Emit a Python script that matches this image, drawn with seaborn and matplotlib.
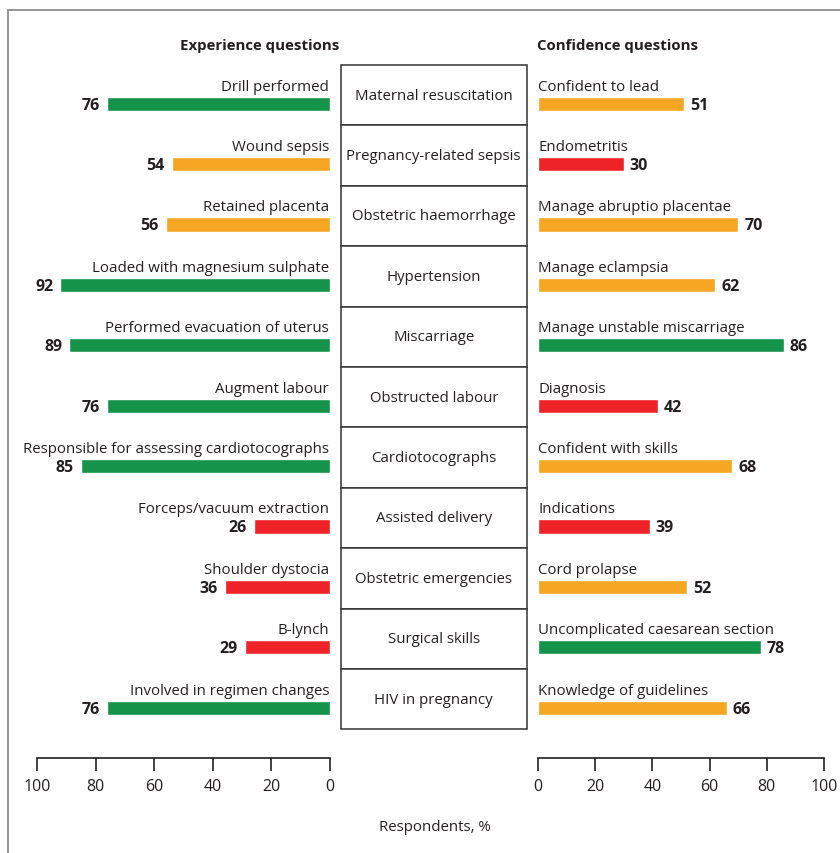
import matplotlib
matplotlib.use("Agg")
import matplotlib.pyplot as plt
from matplotlib.lines import Line2D
from matplotlib.patches import Rectangle
import pandas as pd
import seaborn as sns

# ---- data -------------------------------------------------------------
topics = [
    "Maternal resuscitation", "Pregnancy-related sepsis", "Obstetric haemorrhage",
    "Hypertension", "Miscarriage", "Obstructed labour", "Cardiotocographs",
    "Assisted delivery", "Obstetric emergencies", "Surgical skills", "HIV in pregnancy",
]
experience_items = [
    "Drill performed", "Wound sepsis", "Retained placenta",
    "Loaded with magnesium sulphate", "Performed evacuation of uterus",
    "Augment labour", "Responsible for assessing cardiotocographs",
    "Forceps/vacuum extraction", "Shoulder dystocia", "B-lynch",
    "Involved in regimen changes",
]
experience_pct = [76, 54, 56, 92, 89, 76, 85, 26, 36, 29, 76]
confidence_items = [
    "Confident to lead", "Endometritis", "Manage abruptio placentae",
    "Manage eclampsia", "Manage unstable miscarriage", "Diagnosis",
    "Confident with skills", "Indications", "Cord prolapse",
    "Uncomplicated caesarean section", "Knowledge of guidelines",
]
confidence_pct = [51, 30, 70, 62, 86, 42, 68, 39, 52, 78, 66]
ticks = [0, 20, 40, 60, 80, 100]

# ---- styling ----------------------------------------------------------
GREEN, ORANGE, RED = "#16934a", "#f6a623", "#ee2328"
palette = {"high": GREEN, "mid": ORANGE, "low": RED}


def band(v):
    return "high" if v >= 75 else ("mid" if v >= 50 else "low")


sns.set_theme(style="white")
plt.rcParams["font.family"] = ["Open Sans", "DejaVu Sans"]
TXT = "#231f20"
FS = 10.8

W, H = 840, 854
fig = plt.figure(figsize=(W / 100, H / 100), dpi=100)


def rect(x0, x1, y0, y1):
    return [x0 / W, 1 - y1 / H, (x1 - x0) / W, (y1 - y0) / H]


ROW = 60.4          # pixel height of one topic row
TOP = 66            # top edge of the first row
AXIS_Y = 759        # pixel row of the percentage axis
y_top = -38.7 / ROW
y_bottom = y_top + (AXIS_Y - TOP) / ROW


def panel(ax, items, values, side):
    df = pd.DataFrame({"item": items, "pct": values,
                       "band": [band(v) for v in values]})
    sns.barplot(data=df, x="pct", y="item", hue="band", palette=palette,
                order=items, dodge=False, legend=False, width=0.232,
                saturation=1, errorbar=None, orient="h", ax=ax)
    if side == "left":
        ax.set_xlim(100, 0)
    else:
        ax.set_xlim(0, 100)
    ax.set_ylim(y_bottom, y_top)
    ax.set_yticks([])
    ax.set_xticks(ticks)
    ax.set_xlabel("")
    ax.set_ylabel("")
    ax.patch.set_alpha(0)
    sns.despine(ax=ax, left=True)
    ax.spines["bottom"].set_color(TXT)
    ax.spines["bottom"].set_linewidth(1.2)
    ax.tick_params(axis="x", direction="out", length=9.5, width=1.2,
                   color=TXT, labelcolor=TXT, labelsize=11.5, pad=5,
                   bottom=True)
    for i, (name, v) in enumerate(zip(items, values)):
        if side == "left":
            ax.annotate(name, (0, i - 0.29), xytext=(-1, 0),
                        textcoords="offset pixels", ha="right", va="center",
                        fontsize=FS, color=TXT)
            ax.annotate(str(v), (v, i), xytext=(-7, -1),
                        textcoords="offset pixels", ha="right", va="center",
                        fontsize=11.5, fontweight="bold", color=TXT)
        else:
            ax.annotate(name, (0, i - 0.29), xytext=(0, 0),
                        textcoords="offset pixels", ha="left", va="center",
                        fontsize=FS, color=TXT)
            ax.annotate(str(v), (v, i), xytext=(6, -1),
                        textcoords="offset pixels", ha="left", va="center",
                        fontsize=11.5, fontweight="bold", color=TXT)


ax_left = fig.add_axes(rect(37, 330, TOP, AXIS_Y))
panel(ax_left, experience_items, experience_pct, "left")

ax_right = fig.add_axes(rect(538, 824, TOP, AXIS_Y))
panel(ax_right, confidence_items, confidence_pct, "right")

# central column of topic boxes
ax_mid = fig.add_axes(rect(340.5, 527, TOP, TOP + ROW * len(topics)))
ax_mid.set_xlim(0, 1)
ax_mid.set_ylim(len(topics), 0)
ax_mid.axis("off")
for i, t in enumerate(topics):
    ax_mid.add_patch(Rectangle((0, i), 1, 1, facecolor="white",
                               edgecolor="#333333", linewidth=1.1,
                               clip_on=False))
    ax_mid.text(0.5, i + 0.5, t, ha="center", va="center",
                fontsize=FS, color=TXT)

# headings and axis caption
fig.text(339 / W, 1 - 46 / H, "Experience questions", ha="right",
         va="center", fontsize=FS, fontweight="bold", color=TXT)
fig.text(537 / W, 1 - 46 / H, "Confidence questions", ha="left",
         va="center", fontsize=FS, fontweight="bold", color=TXT)
fig.text(434.5 / W, 1 - 828 / H, "Respondents, %", ha="center",
         va="center", fontsize=FS, color=TXT)

# outer frame (top and left edges)
frame_kw = dict(color="#8c8c8c", linewidth=1.3)
fig.add_artist(Line2D([8 / W, 8 / W], [0, 1 - 10.5 / H], **frame_kw))
fig.add_artist(Line2D([8 / W, 1], [1 - 10.5 / H, 1 - 10.5 / H], **frame_kw))

fig.savefig("out.png", dpi=100)
